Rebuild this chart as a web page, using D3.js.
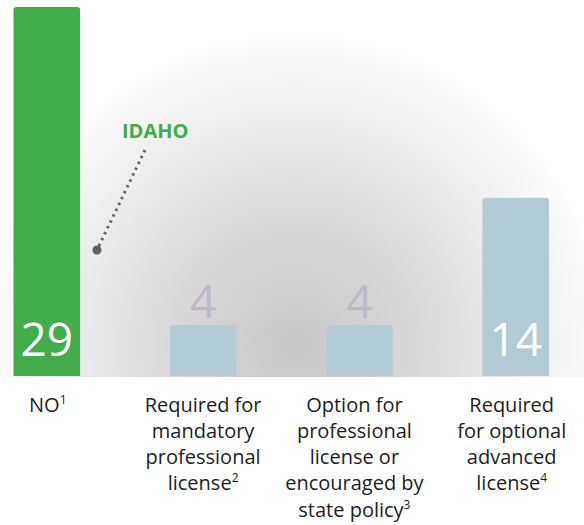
<!DOCTYPE html>
<html>
<head>
<meta charset="utf-8">
<script src="https://cdn.jsdelivr.net/npm/d3@7/dist/d3.min.js"></script>
<style>
  html, body { margin: 0; padding: 0; background: #fff; }
  svg { display: block; }
  text { font-family: "Open Sans", "Noto Sans", sans-serif; }
</style>
</head>
<body>
<svg id="chart" width="584" height="525"></svg>
<script>
// ---- data ----
const categories = ["NO", "Required for mandatory professional license", "Option for professional license or encouraged by state policy", "Required for optional advanced license"];
const labelLines = [
  ["NO"],
  ["Required for", "mandatory", "professional", "license"],
  ["Option for", "professional", "license or", "encouraged by", "state policy"],
  ["Required", "for optional", "advanced", "license"]
];
const footnotes = ["1", "2", "3", "4"];
const values = [29, 4, 4, 14];
const highlight = [true, false, false, false];
const calloutText = "IDAHO";

// ---- layout ----
const W = 584, H = 525;
const baseY = 376, topY = 7;
const svg = d3.select("#chart");

const x = d3.scaleBand().domain(categories).range([13.5, 549]).paddingInner(0.574).paddingOuter(0);
const y = d3.scaleLinear().domain([0, 29]).range([baseY, topY]);

// background glow
const defs = svg.append("defs");
const grad = defs.append("radialGradient").attr("id", "glow")
  .attr("gradientUnits", "userSpaceOnUse")
  .attr("cx", 295).attr("cy", 345).attr("r", 315);
[[0, "#c6c6c6"], [0.3, "#d4d4d4"], [0.62, "#e6e6e6"], [0.86, "#f5f5f5"], [1, "#ffffff"]]
  .forEach(([o, c]) => grad.append("stop").attr("offset", o).attr("stop-color", c));
svg.append("rect").attr("x", 0).attr("y", 0).attr("width", W).attr("height", baseY + 1).attr("fill", "url(#glow)");

// bars with slightly rounded top corners
function barPath(x0, w, yTop, yBot, r) {
  return `M${x0},${yBot} L${x0},${yTop + r} Q${x0},${yTop} ${x0 + r},${yTop} L${x0 + w - r},${yTop} Q${x0 + w},${yTop} ${x0 + w},${yTop + r} L${x0 + w},${yBot} Z`;
}
svg.append("g").selectAll("path").data(categories).join("path")
  .attr("d", (c, i) => barPath(x(c), x.bandwidth(), y(values[i]), y(0), 3))
  .attr("fill", (c, i) => highlight[i] ? "#42ad4a" : "#b3cbd5");

// value labels
svg.append("g").selectAll("text").data(categories).join("text")
  .attr("x", (c, i) => x(c) + x.bandwidth() / 2)
  .attr("y", (c, i) => values[i] >= 10 ? 356 : y(values[i]) - 7.5)
  .attr("text-anchor", "middle")
  .attr("font-size", 46)
  .attr("font-weight", 400)
  .attr("fill", (c, i) => values[i] >= 10 ? "#ffffff" : "#bcb7c9")
  .text((c, i) => values[i]);

// category labels
const labelDx = [1, 0, -5, -4];
const lineH = 26.3;
categories.forEach((c, i) => {
  const cx = x(c) + x.bandwidth() / 2 + labelDx[i];
  const lines = labelLines[i];
  lines.forEach((ln, j) => {
    const t = svg.append("text")
      .attr("x", cx)
      .attr("y", 411.5 + j * lineH)
      .attr("text-anchor", "middle")
      .attr("font-size", 20)
      .attr("fill", "#1e1e1e");
    t.append("tspan").text(ln);
    if (j === lines.length - 1) {
      t.append("tspan").attr("font-size", 12).attr("dy", -8).text(footnotes[i]);
    }
  });
});

// callout
svg.append("text")
  .attr("x", 122).attr("y", 137.5)
  .attr("font-size", 20).attr("font-weight", 700)
  .attr("fill", "#3dae49")
  .text(calloutText);
svg.append("line")
  .attr("x1", 145).attr("y1", 150)
  .attr("x2", 97).attr("y2", 250)
  .attr("stroke", "#6a6a6a").attr("stroke-width", 3)
  .attr("stroke-dasharray", "2.5,4");
svg.append("circle").attr("cx", 97).attr("cy", 250).attr("r", 4.5).attr("fill", "#5f5f5f");
</script>
</body>
</html>
